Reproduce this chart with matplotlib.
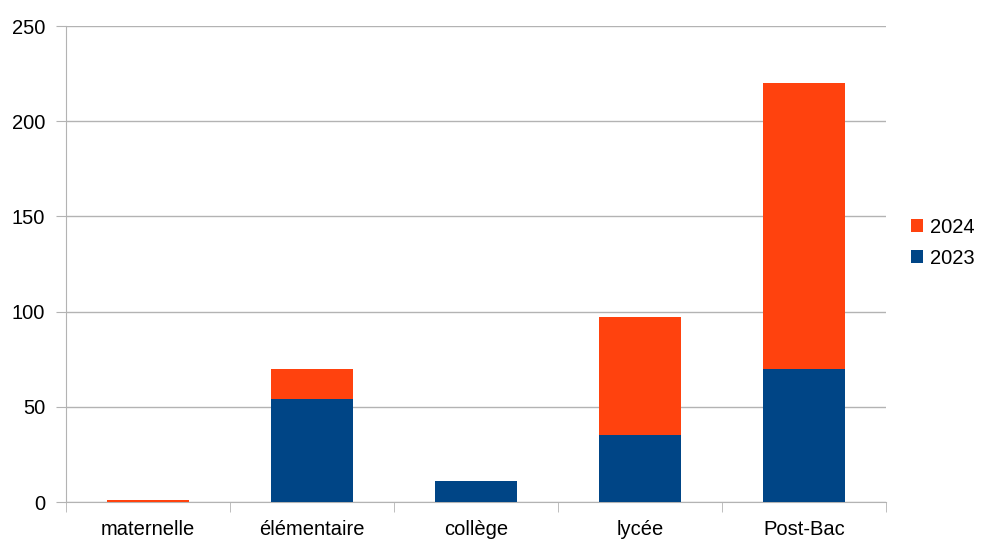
import numpy as np
import matplotlib.pyplot as plt

plt.rcParams['font.family'] = ['Liberation Sans', 'DejaVu Sans']

categories = ['maternelle', 'élémentaire', 'collège', 'lycée', 'Post-Bac']
y2023 = [0, 54, 11, 35, 70]
y2024 = [1, 16, 0, 62, 150]

fig = plt.figure(figsize=(9.83, 5.4), dpi=100)
ax = fig.add_axes([66 / 983, 38 / 540, 820 / 983, 476 / 540])

ind = np.arange(len(categories))
width = 0.5
p1 = ax.bar(ind, y2023, width, color='#004586', zorder=3)
p2 = ax.bar(ind, y2024, width, bottom=y2023, color='#ff420e', zorder=3)

ax.set_xlim(-0.5, len(categories) - 0.5)
ax.set_ylim(0, 250)
ax.set_yticks(np.arange(0, 251, 50))
ax.yaxis.grid(True, color='#b3b3b3', linewidth=1, zorder=0)

ax.set_xticks(ind)
ax.set_xticklabels(categories, fontsize=14.5)
ax.set_xticks(np.arange(-0.5, len(categories), 1), minor=True)
ax.tick_params(axis='x', which='major', length=0, pad=13)
ax.tick_params(axis='x', which='minor', length=7, color='#b3b3b3')
ax.tick_params(axis='y', length=7, color='#b3b3b3', labelsize=14.5, pad=8)

for s in ['top', 'right']:
    ax.spines[s].set_visible(False)
for s in ['left', 'bottom']:
    ax.spines[s].set_color('#b3b3b3')
    ax.spines[s].set_zorder(1)

ax.legend((p2[0], p1[0]), ('2024', '2023'), frameon=False, fontsize=14.5,
          loc='center left', bbox_to_anchor=(1.008, 0.545), handlelength=0.6,
          handleheight=0.6, handletextpad=0.35, labelspacing=0.6)

plt.savefig('out.png')
